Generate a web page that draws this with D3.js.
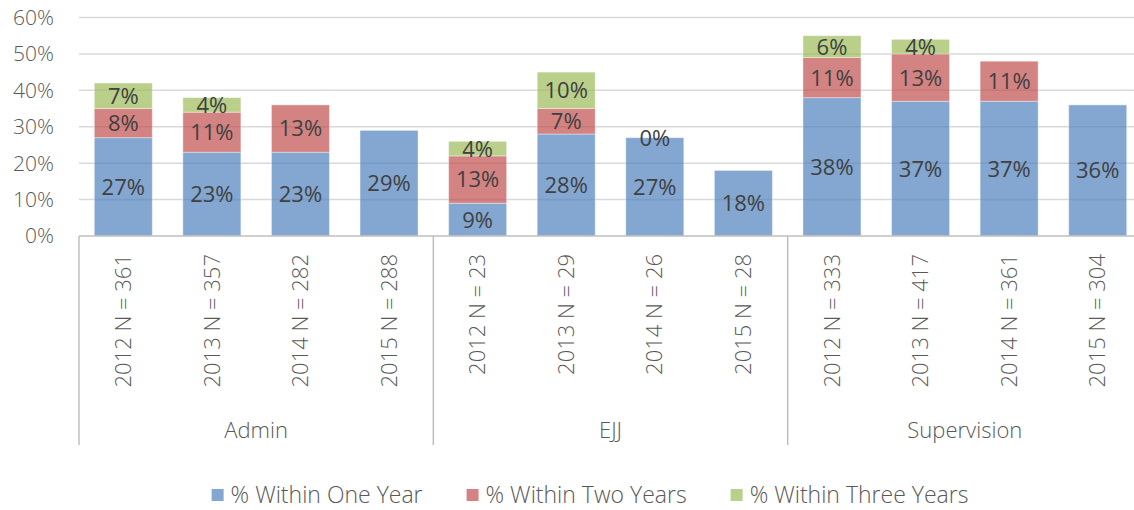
<!DOCTYPE html>
<html>
<head>
<meta charset="utf-8">
<script src="https://cdn.jsdelivr.net/npm/d3@7"></script>
<style>
  body { margin: 0; background: #fff; }
  svg { display: block; font-family: "Open Sans", "Noto Sans", sans-serif; }
</style>
</head>
<body>
<div id="chart"></div>
<script>
// data
const groups = ["Admin", "EJJ", "Supervision"];
const years = ["2012", "2013", "2014", "2015"];
const counts = [361, 357, 282, 288, 23, 29, 26, 28, 333, 417, 361, 304];
const oneYear = [27, 23, 23, 29, 9, 28, 27, 18, 38, 37, 37, 36];
const twoYears = [8, 11, 13, null, 13, 7, 0, null, 11, 13, 11, null];
const threeYears = [7, 4, null, null, 4, 10, null, null, 6, 4, null, null];
const seriesNames = ["% Within One Year", "% Within Two Years", "% Within Three Years"];
const yTicks = [0, 10, 20, 30, 40, 50, 60];

const colors = ["#4F81BD", "#C0504D", "#9BBB59"];

const svgWidth = 1134, svgHeight = 510;
const plot = { left: 79, right: 1142, top: 17.5, bottom: 236 };

const svg = d3.select("#chart")
  .append("svg")
  .attr("width", svgWidth)
  .attr("height", svgHeight);

// build rows
const rows = counts.map((n, i) => ({
  key: i,
  group: groups[Math.floor(i / 4)],
  label: `${years[i % 4]} N = ${n}`,
  values: [oneYear[i], twoYears[i], threeYears[i]]
}));

const x = d3.scaleBand()
  .domain(rows.map(d => d.key))
  .range([plot.left, plot.right])
  .paddingInner(0.345)
  .paddingOuter(0.1725);

const y = d3.scaleLinear()
  .domain([0, 60])
  .range([plot.bottom, plot.top]);

// gridlines
svg.append("g")
  .selectAll("line")
  .data(yTicks.filter(t => t > 0))
  .join("line")
  .attr("x1", plot.left)
  .attr("x2", plot.right)
  .attr("y1", d => y(d))
  .attr("y2", d => y(d))
  .attr("stroke", "#D9D9D9")
  .attr("stroke-width", 1.5);

// y labels
svg.append("g")
  .selectAll("text")
  .data(yTicks)
  .join("text")
  .attr("x", 54)
  .attr("y", d => y(d))
  .attr("dy", "0.35em")
  .attr("text-anchor", "end")
  .attr("fill", "#595959")
  .style("font-size", "21px")
  .style("font-weight", 300)
  .text(d => d + "%");

// stack segments
const segs = [];
rows.forEach(r => {
  let base = 0;
  r.values.forEach((v, s) => {
    if (v === null) return;
    segs.push({ key: r.key, s, y0: base, y1: base + v, v });
    base += v;
  });
});

svg.append("g")
  .selectAll("rect")
  .data(segs.filter(d => d.v > 0))
  .join("rect")
  .attr("x", d => x(d.key))
  .attr("width", x.bandwidth())
  .attr("y", d => y(d.y1))
  .attr("height", d => y(d.y0) - y(d.y1))
  .attr("fill", d => colors[d.s])
  .attr("fill-opacity", 0.7)
  .attr("stroke", "#fff")
  .attr("stroke-opacity", 0.4)
  .attr("stroke-width", 1);

// data labels
svg.append("g")
  .selectAll("text")
  .data(segs)
  .join("text")
  .attr("x", d => x(d.key) + x.bandwidth() / 2)
  .attr("y", d => (y(d.y0) + y(d.y1)) / 2)
  .attr("dy", "0.36em")
  .attr("text-anchor", "middle")
  .attr("fill", "#404040")
  .style("font-size", "22px")
  .text(d => d.v + "%");

// category axis
const axis = svg.append("g").attr("stroke", "#BFBFBF").attr("stroke-width", 1.5);
axis.append("line")
  .attr("x1", plot.left).attr("x2", plot.right)
  .attr("y1", plot.bottom).attr("y2", plot.bottom);

const step = x.step();
[0, 4, 8, 12].forEach(i => {
  const xp = plot.left + i * step;
  axis.append("line")
    .attr("x1", xp).attr("x2", xp)
    .attr("y1", plot.bottom).attr("y2", 445);
});

// rotated category labels
svg.append("g")
  .selectAll("text")
  .data(rows)
  .join("text")
  .attr("transform", d => `translate(${x(d.key) + x.bandwidth() / 2}, 254) rotate(-90)`)
  .attr("dy", "0.35em")
  .attr("text-anchor", "end")
  .attr("fill", "#595959")
  .style("font-size", "22px")
  .style("font-weight", 300)
  .text(d => d.label);

// group labels
svg.append("g")
  .selectAll("text")
  .data(groups)
  .join("text")
  .attr("x", (d, i) => plot.left + (i * 4 + 2) * step)
  .attr("y", 430)
  .attr("dy", "0.35em")
  .attr("text-anchor", "middle")
  .attr("fill", "#595959")
  .style("font-size", "22px")
  .style("font-weight", 300)
  .text(d => d);

// legend
const legend = svg.append("g");
const items = legend.selectAll("g")
  .data(seriesNames)
  .join("g");

items.append("rect")
  .attr("width", 12)
  .attr("height", 12)
  .attr("y", -6)
  .attr("fill", (d, i) => colors[i])
  .attr("fill-opacity", 0.7);

items.append("text")
  .attr("x", 19)
  .attr("dy", "0.35em")
  .attr("fill", "#595959")
  .style("font-size", "23px")
  .style("font-weight", 300)
  .text(d => d);

let xpos = 0;
const gap = 44;
items.each(function () {
  const w = 19 + d3.select(this).select("text").node().getComputedTextLength();
  d3.select(this).attr("transform", `translate(${xpos}, 0)`);
  xpos += w + gap;
});
const total = xpos - gap;
legend.attr("transform", `translate(${590 - total / 2}, 495)`);
</script>
</body>
</html>
